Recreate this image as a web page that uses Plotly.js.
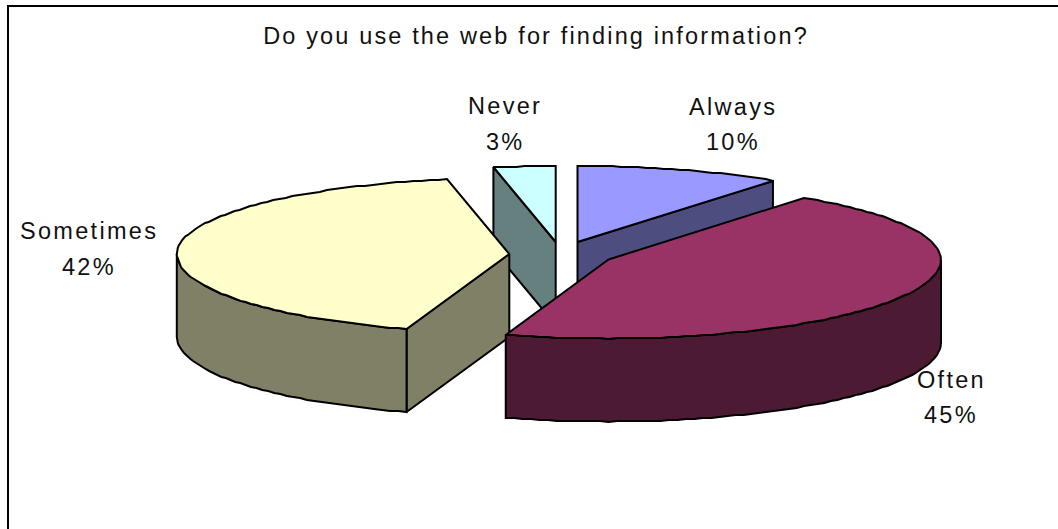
<!DOCTYPE html>
<html>
<head>
<meta charset="utf-8">
<script src="https://cdn.plot.ly/plotly-3.0.1.min.js"></script>
<style>
html,body{margin:0;padding:0;background:#fff;overflow:hidden}
#chart{width:1058px;height:529px}
.gtitle{letter-spacing:2.15px}
.annotation-text{letter-spacing:2.3px}
</style>
</head>
<body>
<div id="chart"></div>
<script>
// Data
const chartTitle = "Do you use the web for finding information?";
const categories = ["Always", "Often", "Sometimes", "Never"];
const percentValues = [10, 45, 42, 3];

// Colours
const topColors  = ["#9999FF", "#993366", "#FFFFCC", "#CCFFFF"];
const sideColors = ["#4D4D80", "#4D1A33", "#808066", "#668080"];

// 3-D projection of the pie on the hidden axes
const radiusX = 332.5, radiusYBack = 76, radiusYFront = 79, depth = 83;
const sliceCentres = [[577.5,242],[608.5,259.5],[509.3,254],[555.7,242]];
const labelAnchors = [[733,107,142],[951,380,415],[89,231,267],[505,106,142]];
const drawOrder = [3,0,2,1];

const total = percentValues.reduce((a,b)=>a+b,0);
const startAngle = [];
percentValues.reduce((acc,v,i)=>{startAngle[i]=acc;return acc+v/total*360;},0);
const rad = d => d*Math.PI/180;

function rim(c, deg, dz){
  const co=Math.cos(rad(deg));
  const ry=co>0?radiusYBack:radiusYFront;
  return [c[0]+radiusX*Math.sin(rad(deg)), Math.round(c[1]-ry*co)+dz];
}
function arc(c, from, to, dz){
  const pts=[], stepCount=Math.max(2,Math.ceil((to-from)/1.5));
  for(let k=0;k<=stepCount;k++) pts.push(rim(c, from+(to-from)*k/stepCount, dz));
  return pts;
}
function poly(pts, fill){
  const closed = pts.concat([pts[0]]);
  return {x:closed.map(p=>p[0]), y:closed.map(p=>p[1]), type:"scatter", mode:"lines",
    fill:"toself", fillcolor:fill, line:{color:"#000",width:2,shape:"linear"},
    hoverinfo:"skip", showlegend:false};
}

const traces=[];
drawOrder.forEach(i=>{
  const c=sliceCentres[i], a0=startAngle[i], a1=a0+percentValues[i]/total*360;
  const apex=[c[0],c[1]], apexLow=[c[0],c[1]+depth];
  // cut faces that look toward the viewer
  if(Math.cos(rad(a0-90))<0){
    traces.push(poly([apex,rim(c,a0,0),rim(c,a0,depth),apexLow], sideColors[i]));
  }
  if(Math.cos(rad(a1+90))<0){
    traces.push(poly([apex,rim(c,a1,0),rim(c,a1,depth),apexLow], sideColors[i]));
  }
  // outer wall, front half only
  const w0=Math.max(a0,90), w1=Math.min(a1,270);
  if(w1>w0){
    traces.push(poly(arc(c,w0,w1,0).concat(arc(c,w0,w1,depth).reverse()), sideColors[i]));
  }
  // top face
  traces.push(poly([apex].concat(arc(c,a0,a1,0)), topColors[i]));
});

const labelFont={family:"Liberation Sans, Arial, sans-serif",size:23.5,color:"#111"};
const annotations=[];
categories.forEach((name,i)=>{
  const a=labelAnchors[i];
  annotations.push({x:a[0],y:a[1],xref:"x",yref:"y",text:name,showarrow:false,font:labelFont,xanchor:"center",yanchor:"middle"});
  annotations.push({x:a[0],y:a[2],xref:"x",yref:"y",text:percentValues[i]+"%",showarrow:false,font:labelFont,xanchor:"center",yanchor:"middle"});
});

const layout={
  width:1058,height:529,
  margin:{l:0,r:0,t:0,b:0,pad:0},
  paper_bgcolor:"#fff",plot_bgcolor:"#fff",
  title:{text:chartTitle,font:{family:"Liberation Sans, Arial, sans-serif",size:23.5,color:"#111"},
    x:536/1058,xref:"paper",xanchor:"center",y:1-36/529,yref:"paper",yanchor:"middle",automargin:false},
  xaxis:{range:[0,1058],visible:false,fixedrange:true},
  yaxis:{range:[529,0],visible:false,fixedrange:true},
  showlegend:false,
  annotations:annotations,
  shapes:[{type:"rect",xref:"x",yref:"y",x0:8,x1:1080,y0:6,y1:560,line:{color:"#000",width:2},fillcolor:"rgba(0,0,0,0)",layer:"below"}]
};
Plotly.newPlot("chart",traces,layout,{displayModeBar:false,staticPlot:true});
</script>
</body>
</html>
